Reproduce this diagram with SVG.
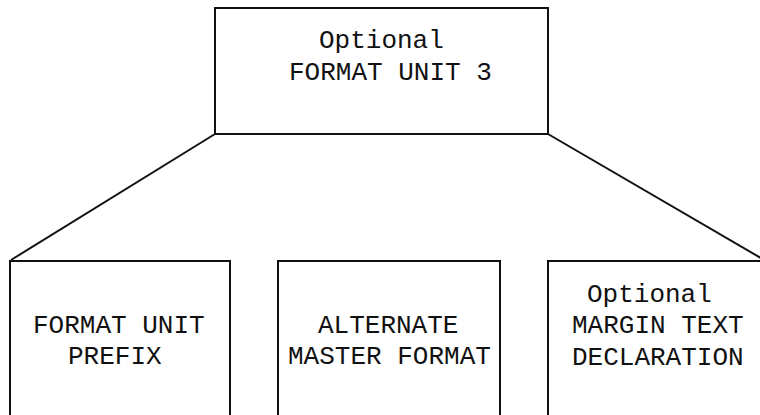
<svg xmlns="http://www.w3.org/2000/svg" width="760" height="415" viewBox="0 0 760 415">
  <style>
    .box { fill: #ffffff; stroke: #111111; stroke-width: 2; }
    .link { fill: none; stroke: #111111; stroke-width: 2; }
    .label { font-family: "Liberation Mono", "DejaVu Sans Mono", monospace; font-size: 26px; fill: #111111; }
  </style>
  <rect width="760" height="415" fill="#ffffff"/>

  <!-- connectors from the parent unit to its components -->
  <g id="connectors">
    <line class="link" x1="215" y1="134" x2="11" y2="260"/>
    <line class="link" x1="548" y1="134" x2="766" y2="261"/>
  </g>

  <g id="format-unit-3">
    <rect class="box" x="215" y="8" width="333" height="126"/>
    <text class="label" x="319" y="48">Optional</text>
    <text class="label" x="289" y="80">FORMAT UNIT 3</text>
  </g>

  <g id="format-unit-prefix">
    <rect class="box" x="10" y="261" width="220" height="170"/>
    <text class="label" x="33" y="333">FORMAT UNIT</text>
    <text class="label" x="68" y="364">PREFIX</text>
  </g>

  <g id="alternate-master-format">
    <rect class="box" x="278" y="261" width="222" height="170"/>
    <text class="label" x="318" y="333">ALTERNATE</text>
    <text class="label" x="288" y="364">MASTER FORMAT</text>
  </g>

  <g id="margin-text-declaration">
    <rect class="box" x="548" y="261" width="230" height="170"/>
    <text class="label" x="587" y="302">Optional</text>
    <text class="label" x="572" y="333">MARGIN TEXT</text>
    <text class="label" x="572" y="365">DECLARATION</text>
  </g>
</svg>
